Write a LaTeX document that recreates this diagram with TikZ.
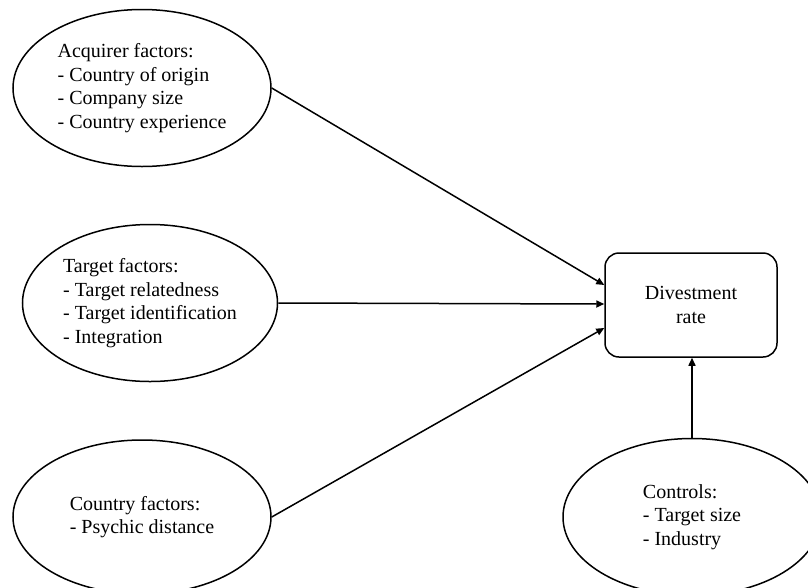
\documentclass[tikz,border=0pt]{standalone}
\usepackage{fontspec}
\setmainfont{Liberation Serif}
\newfontfamily\timesfont{Liberation Serif}
\usetikzlibrary{shapes.geometric,arrows.meta}

\tikzset{
  factor/.style={draw, ellipse, line width=1.5pt, inner sep=0pt, align=left,
    minimum width=258, minimum height=157, font=\timesfont\fontsize{20}{23.5}\selectfont},
  outcome/.style={draw, rectangle, rounded corners=14pt, line width=1.5pt, align=center,
    minimum width=172, minimum height=104, font=\timesfont\fontsize{20}{23.5}\selectfont},
  link/.style={line width=1.5pt, -{Triangle[length=8pt,width=7pt]}}
}

\begin{document}
\begin{tikzpicture}[x=1pt,y=-1pt]
    \path[use as bounding box, clip] (0,0) rectangle (808,587);
    \fill[white] (0,0) rectangle (808,587);
    % factors
    \node[factor] (acq) at (142,88) {Acquirer factors:\\- Country of origin\\- Company size\\- Country experience};
    \node[factor, minimum width=255] (tgt) at (150,303) {Target factors:\\- Target relatedness\\- Target identification\\- Integration};
    \node[factor, minimum height=154] (cty) at (142,517) {Country factors:\\- Psychic distance};
    \node[factor] (ctrl) at (692,517) {Controls:\\- Target size\\- Industry};
    % outcome
    \node[outcome] (div) at (691,305) {Divestment\\rate};
    % arrows
    \draw[link] (acq.east) -- ([yshift=20pt]div.west);
    \draw[link] (tgt.east) -- ([yshift=1pt]div.west);
    \draw[link] (cty.east) -- ([yshift=-23pt]div.west);
    \draw[link] (ctrl.north) -- (ctrl.north |- div.south);
\end{tikzpicture}
\end{document}
